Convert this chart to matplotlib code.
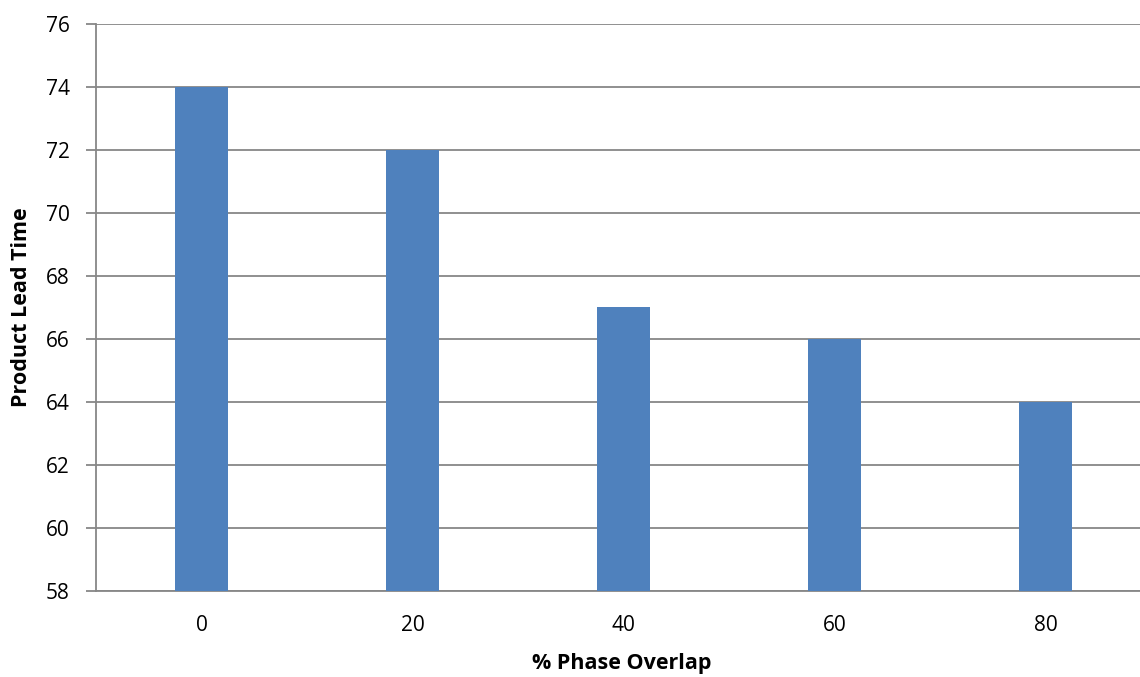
import matplotlib
matplotlib.use('Agg')
import matplotlib.pyplot as plt

# Данные графика
overlap = ['0', '20', '40', '60', '80']
lead_time = [74, 72, 67, 66, 64]
y_ticks = [58, 60, 62, 64, 66, 68, 70, 72, 74, 76]

plt.rcParams['font.family'] = ['Open Sans', 'DejaVu Sans']

fig = plt.figure(figsize=(11.4, 6.77), dpi=100)
# ось немного выходит за правый край, как в исходной картинке
ax = fig.add_axes([96 / 1140, 1 - 591 / 677, 1055 / 1140, (591 - 24) / 677])

ax.bar(range(len(overlap)), [v - 58 for v in lead_time], bottom=58,
       width=0.25, color='#4F81BD', zorder=3)

ax.set_xlim(-0.5, len(overlap) - 0.5)
ax.set_ylim(58, 76)
ax.set_yticks(y_ticks)
ax.set_xticks(range(len(overlap)))
ax.set_xticklabels(overlap)
ax.grid(axis='y', color='#878787', linewidth=1.3, zorder=0)

for side in ['top', 'right']:
    ax.spines[side].set_visible(False)
for side in ['left', 'bottom']:
    ax.spines[side].set_color('#878787')
    ax.spines[side].set_linewidth(1.3)

ax.tick_params(axis='y', length=7, width=1.3, color='#878787', labelsize=15, pad=12)
ax.tick_params(axis='x', length=0, labelsize=15, pad=17)

ax.set_ylabel('Product Lead Time', fontsize=15.5, fontweight='bold')
ax.yaxis.set_label_coords(-64 / 1055, 0.5)
fig.text(622 / 1140, 1 - 663 / 677, '% Phase Overlap', fontsize=15.5,
         fontweight='bold', ha='center', va='center')

fig.savefig('out.png', dpi=100)
